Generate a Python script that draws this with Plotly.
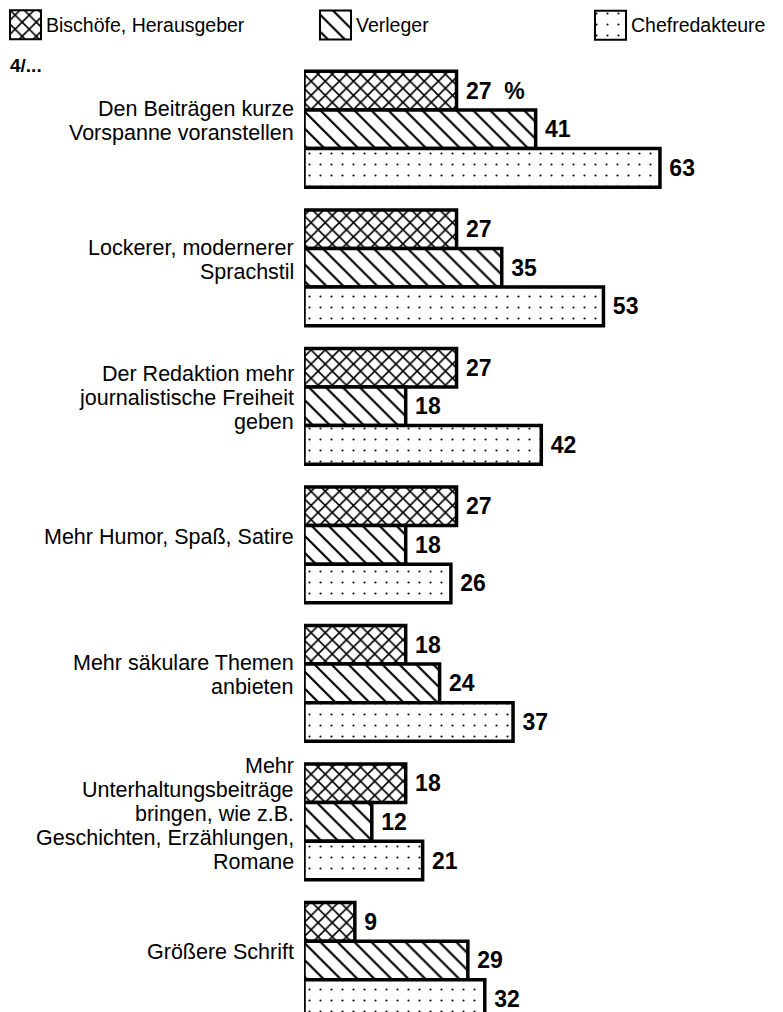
import plotly.graph_objects as go

# ---------------- data ----------------
categories = [
    "Den Beiträgen kurze<br>Vorspanne voranstellen",
    "Lockerer, modernerer<br>Sprachstil",
    "Der Redaktion mehr<br>journalistische Freiheit<br>geben",
    "Mehr Humor, Spaß, Satire",
    "Mehr säkulare Themen<br>anbieten",
    "Mehr<br>Unterhaltungsbeiträge<br>bringen, wie z.B.<br>Geschichten, Erzählungen,<br>Romane",
    "Größere Schrift",
]
series_names = ["Bischöfe, Herausgeber", "Verleger", "Chefredakteure"]
bischoefe = [27, 27, 27, 27, 18, 18, 9]
verleger = [41, 35, 18, 18, 24, 12, 29]
chefred = [63, 53, 42, 26, 37, 21, 32]
series_values = [bischoefe, verleger, chefred]
corner_label = "4/..."

# ---------------- styling ----------------
W, H = 783, 1012
FONT = "Liberation Sans, Arial, sans-serif"
patterns = [
    dict(shape="x", size=10, solidity=0.3),
    dict(shape="\\", size=12, solidity=0.18),
    dict(shape=".", size=11, solidity=0.03),
]

bar_left_px = 296
px_per_unit = 5.65
plot_top_px = 52

fig = go.Figure()
ypos = list(range(len(categories)))

for i, (name, vals) in enumerate(zip(series_names, series_values)):
    texts = []
    for j, v in enumerate(vals):
        t = "\u00a0" + str(v)
        if i == 0 and j == 0:
            t += "\u00a0\u00a0%"
        texts.append(t)
    fig.add_trace(go.Bar(
        name=name, orientation="h", y=ypos, x=vals,
        text=texts, textposition="outside", constraintext="none",
        cliponaxis=False,
        textfont=dict(family=FONT, size=23, color="black", weight="bold"),
        marker=dict(color="white", line=dict(color="black", width=3.5),
                    pattern=dict(fgcolor="black", bgcolor="white", fillmode="replace", **patterns[i])),
        showlegend=False, hoverinfo="skip",
        xaxis="x", yaxis="y",
    ))

# custom legend swatches on an overlay axis measured in pixels
legend_x = [2, 312, 587]
legend_w = 31
legend_y = 17
for i, name in enumerate(series_names):
    fig.add_trace(go.Bar(
        orientation="h", y=[legend_y], x=[legend_w], base=[legend_x[i]], width=[29],
        marker=dict(color="white", line=dict(color="black", width=2),
                    pattern=dict(fgcolor="black", bgcolor="white", fillmode="replace", **patterns[i])),
        showlegend=False, hoverinfo="skip", xaxis="x2", yaxis="y2", cliponaxis=False,
    ))

annotations = []
for i, name in enumerate(series_names):
    annotations.append(dict(
        x=legend_x[i] + legend_w + 3, y=legend_y, xref="x2", yref="y2",
        text=name, showarrow=False, xanchor="left", yanchor="middle",
        font=dict(family=FONT, size=19.5, color="black"),
    ))

# category labels, one annotation per line for tight line spacing
line_h = 24
label_lift = 8
for j, cat in enumerate(categories):
    lines = cat.split("<br>")
    n = len(lines)
    for k, ln in enumerate(lines):
        off = ((n - 1) / 2 - k) * line_h + label_lift
        annotations.append(dict(
            x=287 / W, y=j, xref="paper", yref="y", yshift=off,
            text=ln, showarrow=False, xanchor="right", yanchor="middle",
            borderpad=0,
            font=dict(family=FONT, size=21.5, color="black"),
        ))

annotations.append(dict(
    x=0, y=57, xref="x2", yref="y2", text="<b>" + corner_label + "</b>",
    showarrow=False, xanchor="left", yanchor="middle",
    font=dict(family=FONT, size=19, color="black"),
))

fig.update_layout(
    width=W, height=H,
    margin=dict(l=0, r=0, t=0, b=0),
    paper_bgcolor="white", plot_bgcolor="rgba(0,0,0,0)",
    barmode="group", bargap=0.164, bargroupgap=0,
    annotations=annotations,
    xaxis=dict(domain=[bar_left_px / W, 1], range=[0, (W - bar_left_px) / px_per_unit],
               visible=False, fixedrange=True),
    yaxis=dict(domain=[0, (H - plot_top_px) / H], range=[6.43, -0.5],
               visible=False, fixedrange=True),
    xaxis2=dict(domain=[0, 1], range=[0, W], visible=False, anchor="y2", fixedrange=True),
    yaxis2=dict(domain=[0, 1], range=[H, 0], visible=False, anchor="x2", fixedrange=True),
    showlegend=False,
)

fig.write_html("out.html")
